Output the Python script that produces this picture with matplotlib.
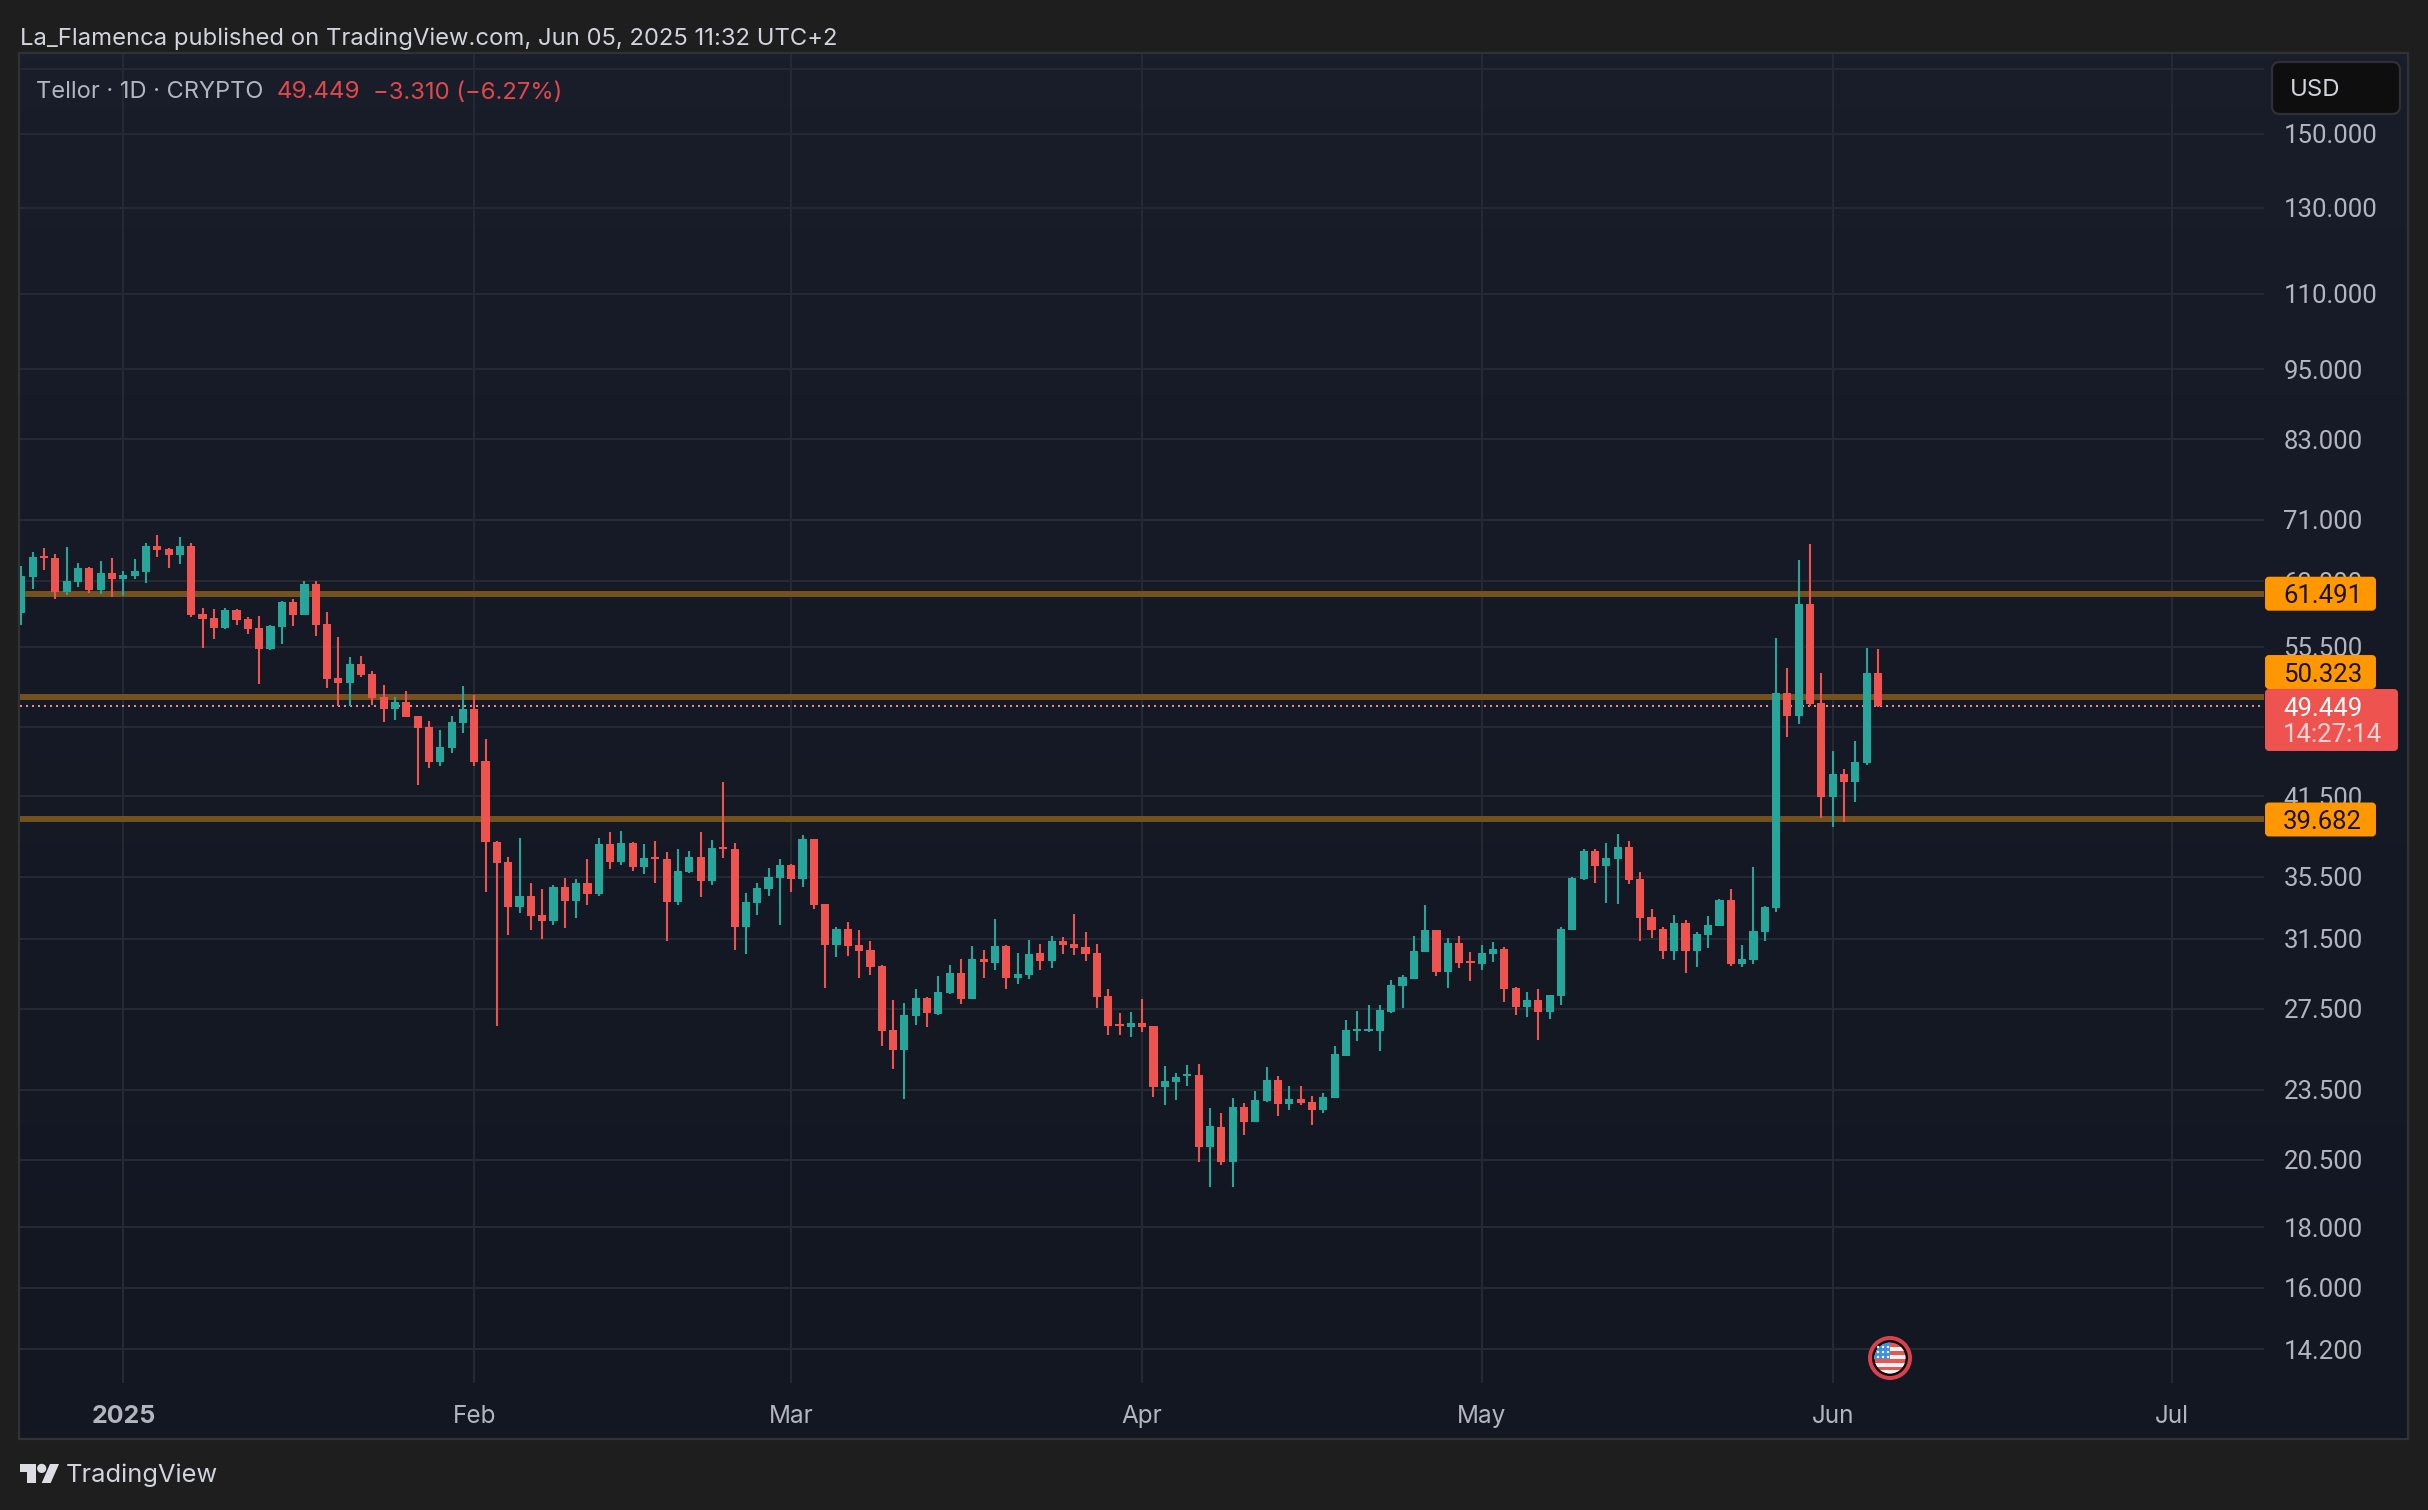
import numpy as np
import pandas as pd
import matplotlib
matplotlib.use("Agg")
import matplotlib.pyplot as plt
import matplotlib.dates as mdates
from matplotlib.patches import Circle, FancyBboxPatch, Polygon, Rectangle

plt.rcParams['font.family'] = ['Inter', 'DejaVu Sans']

# daily candles, first one is cut by the left edge
start_date = "2024-12-23"
opens = [59.21, 63.53, 66.17, 65.91, 61.71, 62.92, 64.64, 61.95, 64.02, 63.29,
         63.61, 64.14, 67.47, 67.03, 66.30, 67.47, 59.13, 58.67, 57.55, 59.55,
         58.56, 57.51, 55.25, 57.66, 60.48, 59.02, 62.67, 57.96, 52.22, 51.71,
         53.66, 52.63, 50.33, 49.18, 49.85, 48.51, 47.49, 44.38, 45.60, 47.86,
         49.18, 44.47, 38.00, 36.56, 33.51, 34.23, 32.99, 32.59, 34.83, 33.90,
         35.10, 34.36, 37.85, 36.56, 37.90, 36.21, 36.89, 36.77, 33.83, 35.86,
         36.92, 35.24, 37.64, 37.49, 32.23, 33.77, 34.69, 35.44, 36.35, 35.37,
         38.23, 33.70, 31.12, 32.11, 31.12, 30.82, 29.88, 26.39, 25.39, 27.12,
         28.08, 27.23, 28.34, 29.48, 28.03, 30.29, 30.05, 31.06, 29.19, 29.37,
         30.64, 30.17, 31.37, 31.18, 31.00, 30.64, 28.19, 26.70, 26.55, 26.76,
         26.60, 23.63, 23.86, 24.14, 24.19, 21.04, 21.87, 20.43, 22.73, 22.08,
         23.00, 23.95, 22.86, 23.09, 22.95, 22.60, 23.13, 25.10, 26.34, 26.32,
         26.34, 27.33, 28.75, 29.14, 30.70, 32.04, 29.54, 31.24, 30.17, 29.99,
         30.58, 30.88, 28.63, 27.60, 27.97, 27.33, 28.19, 32.04, 35.35, 37.36,
         36.27, 36.77, 37.63, 35.37, 32.85, 32.10, 30.76, 32.47, 30.76, 31.73,
         32.29, 33.95, 30.00, 30.23, 31.91, 33.45, 50.72, 48.52, 60.32, 49.76,
         41.46, 43.35, 42.69, 44.26, 52.74]
highs = [64.89, 66.72, 67.16, 66.38, 67.38, 65.23, 64.72, 65.53, 65.91, 64.31,
         65.74, 67.86, 68.91, 67.16, 68.65, 67.86, 59.82, 59.71, 59.78, 59.71,
         58.82, 58.86, 57.85, 60.60, 60.87, 63.04, 63.04, 59.36, 56.55, 54.37,
         54.47, 52.90, 51.51, 50.30, 50.92, 48.51, 48.05, 47.21, 48.51, 51.41,
         50.53, 46.40, 38.03, 36.89, 38.30, 35.10, 34.69, 34.94, 35.44, 35.35,
         36.77, 38.28, 38.73, 38.83, 37.98, 37.85, 38.08, 37.25, 37.49, 37.35,
         38.73, 38.15, 42.69, 37.90, 34.42, 35.10, 36.14, 36.77, 36.42, 38.53,
         38.23, 33.70, 32.23, 32.55, 32.04, 31.36, 29.94, 27.97, 27.79, 28.58,
         28.13, 29.29, 29.93, 30.27, 31.06, 30.82, 32.73, 31.12, 30.62, 31.43,
         31.16, 31.67, 31.61, 33.01, 31.88, 31.16, 28.58, 27.28, 27.33, 28.03,
         26.60, 24.61, 24.28, 24.66, 24.71, 22.69, 22.46, 23.12, 22.90, 23.45,
         24.57, 24.14, 23.68, 23.68, 23.21, 23.36, 25.58, 26.91, 27.38, 27.71,
         27.71, 29.08, 29.37, 31.67, 33.63, 32.04, 31.55, 31.67, 30.70, 31.12,
         31.31, 30.98, 28.69, 28.41, 28.58, 28.24, 32.23, 35.48, 37.46, 37.46,
         37.90, 38.59, 38.05, 35.85, 33.37, 32.22, 32.97, 32.64, 31.91, 32.91,
         34.01, 34.69, 31.12, 36.20, 33.54, 56.44, 53.26, 65.66, 67.73, 52.71,
         45.33, 43.78, 46.21, 55.36, 55.25]
lows = [57.88, 62.11, 64.39, 60.91, 61.35, 62.31, 61.55, 61.47, 61.15, 61.27,
        63.29, 62.83, 66.04, 64.64, 65.14, 58.82, 55.36, 56.33, 57.44, 57.88,
        56.88, 51.61, 55.14, 55.82, 57.73, 59.02, 56.66, 51.22, 49.41, 49.47,
        52.33, 49.56, 47.95, 48.14, 48.42, 42.44, 43.86, 44.03, 45.16, 46.90,
        44.03, 34.49, 26.59, 31.73, 33.12, 32.04, 31.49, 32.36, 32.17, 32.80,
        33.64, 34.18, 36.07, 36.34, 35.88, 35.69, 35.06, 31.36, 33.59, 35.79,
        34.16, 34.97, 36.82, 30.82, 30.59, 32.99, 34.23, 32.36, 34.49, 34.83,
        33.38, 28.63, 30.41, 30.45, 29.19, 29.37, 25.56, 24.46, 23.09, 26.65,
        26.54, 27.17, 28.30, 27.76, 28.03, 29.17, 29.65, 28.58, 28.86, 29.14,
        29.65, 29.76, 30.58, 30.50, 30.17, 27.54, 26.12, 26.12, 26.04, 26.29,
        23.18, 22.82, 23.04, 23.65, 20.43, 19.47, 20.32, 19.47, 21.53, 22.08,
        22.95, 22.34, 22.60, 22.82, 21.95, 22.46, 23.13, 25.06, 25.84, 26.29,
        25.34, 27.28, 27.54, 29.14, 30.70, 29.27, 28.63, 29.76, 29.02, 29.65,
        30.11, 27.87, 27.17, 27.07, 25.89, 26.96, 27.71, 32.00, 35.30, 35.09,
        33.76, 33.69, 35.03, 31.35, 31.53, 30.29, 30.23, 29.46, 29.82, 30.94,
        32.29, 29.88, 29.78, 30.00, 31.35, 33.15, 46.58, 47.77, 49.41, 39.79,
        39.12, 39.48, 41.07, 44.12, 49.35]
closes = [63.65, 66.00, 65.91, 61.71, 63.04, 64.60, 61.91, 63.98, 63.29, 63.78,
          64.27, 67.47, 66.94, 66.30, 67.47, 59.02, 58.56, 57.55, 59.59, 58.45,
          57.44, 55.25, 57.73, 60.48, 59.02, 62.67, 57.88, 52.12, 51.71, 53.66,
          52.53, 50.24, 49.18, 49.85, 48.42, 47.40, 44.38, 45.69, 47.95, 49.18,
          44.38, 37.95, 36.49, 33.51, 34.23, 32.93, 32.61, 34.83, 33.90, 35.10,
          34.36, 37.85, 36.56, 37.90, 36.18, 36.82, 36.77, 33.83, 35.93, 36.92,
          35.24, 37.54, 37.49, 32.23, 33.83, 34.76, 35.51, 36.35, 35.37, 38.23,
          33.64, 31.12, 32.11, 31.06, 30.76, 29.83, 26.34, 25.39, 27.17, 28.08,
          27.28, 28.41, 29.48, 28.01, 30.29, 30.07, 31.06, 29.19, 29.42, 30.58,
          30.15, 31.37, 31.12, 30.94, 30.58, 28.13, 26.60, 26.60, 26.76, 26.55,
          23.63, 23.90, 24.09, 24.23, 21.04, 21.91, 20.43, 22.73, 22.08, 23.04,
          23.95, 22.86, 23.09, 22.91, 22.60, 23.18, 25.19, 26.39, 26.44, 26.42,
          27.44, 28.80, 29.25, 30.76, 32.04, 29.54, 31.24, 30.05, 30.05, 30.64,
          30.88, 28.58, 27.60, 27.97, 27.33, 28.24, 32.10, 35.44, 37.36, 36.27,
          36.84, 37.63, 35.30, 32.79, 32.04, 30.76, 32.47, 30.76, 31.79, 32.35,
          33.95, 30.00, 30.29, 31.97, 33.50, 50.72, 48.52, 60.32, 49.60, 41.46,
          43.35, 42.69, 44.37, 52.74, 49.449]

price_ticks = [170, 150, 130, 110, 95, 83, 71, 63, 55.5, 47.5, 41.5, 35.5, 31.5, 27.5, 23.5, 20.5, 18, 16, 14.2]
price_labels = ["", "150.000", "130.000", "110.000", "95.000", "83.000", "71.000", "63.000", "55.500", "",
                "41.500", "35.500", "31.500", "27.500", "23.500", "20.500", "18.000", "16.000", "14.200"]
month_ticks = ["2025-01-01", "2025-02-01", "2025-03-01", "2025-04-01", "2025-05-01", "2025-06-01", "2025-07-01"]
month_labels = ["2025", "Feb", "Mar", "Apr", "May", "Jun", "Jul"]
levels = [61.491, 50.323, 39.682]
last_price = 49.449

W, H = 2428, 1510
UP = "#26a69a"
DOWN = "#ef5350"
GRID = "#262a35"
AXIS_TEXT = "#b2b5be"
ORANGE = "#ff9800"
NUM_FONT = ['Roboto', 'DejaVu Sans']
NUM_SIZE = 18.5

fig = plt.figure(figsize=(W / 100, H / 100), dpi=100, facecolor="#1e1e1e")


def box(x0, y0, x1, y1):
    return [x0 / W, 1 - y1 / H, (x1 - x0) / W, (y1 - y0) / H]


def px_axes(zorder):
    a = fig.add_axes([0, 0, 1, 1], zorder=zorder)
    a.set_xlim(0, W)
    a.set_ylim(H, 0)
    a.axis("off")
    a.patch.set_alpha(0)
    return a


# pane background, slightly lighter at the top
back = px_axes(0)
top_col = np.array(matplotlib.colors.to_rgb("#1a1e2b"))
bot_col = np.array(matplotlib.colors.to_rgb("#131722"))
ramp = np.linspace(0, 1, 256)[:, None, None] ** 0.6
back.imshow(top_col + (bot_col - top_col) * ramp, extent=[20, 2407, 1438, 54], aspect="auto", zorder=1)
back.set_xlim(0, W)
back.set_ylim(H, 0)
back.add_patch(Rectangle((19, 53), 2389, 1386, fill=False, ec="#303236", lw=1.6, zorder=2))

# chart
ax = fig.add_axes(box(20, 54, 2264, 1383), zorder=1)
ax.patch.set_alpha(0)
ax.set_yscale("log")
ax.set_ylim(13.30, 175.18)

dates = pd.date_range(start_date, periods=len(opens))
x = mdates.date2num(dates)
o = np.array(opens)
h = np.array(highs)
l = np.array(lows)
c = np.array(closes)
cols = [UP if a >= b else DOWN for a, b in zip(c, o)]
body_low = np.minimum(o, c)
body_high = np.maximum(o, c)

jan1 = mdates.date2num(pd.Timestamp("2025-01-01"))
ax.set_xlim(jan1 - 9.125, jan1 + 189.1)

for lev in levels:
    ax.axhline(lev, color="#74521f", lw=4.3, zorder=2)
ax.axhline(last_price, color="#f08a8a", lw=1.44, ls=(0, (1, 2)), zorder=2.5)
ax.vlines(x, l, h, colors=cols, lw=1.5, zorder=3)
ax.bar(x, body_high - body_low, bottom=body_low, width=0.72, color=cols, linewidth=0, zorder=4)

ax.set_xticks(mdates.date2num(pd.to_datetime(month_ticks)))
ax.set_xticklabels(month_labels, fontsize=17.5)
ax.set_yticks(price_ticks)
ax.set_yticklabels(price_labels, fontsize=NUM_SIZE, family=NUM_FONT)
ax.minorticks_off()
ax.yaxis.tick_right()
ax.tick_params(axis="both", length=0, labelcolor=AXIS_TEXT)
ax.tick_params(axis="y", pad=14)
ax.tick_params(axis="x", pad=15.5)
ax.get_xticklabels()[0].set_fontweight("bold")
ax.get_xticklabels()[0].set_fontsize(18)
ax.grid(True, color=GRID, lw=1.4)
ax.set_axisbelow(True)
for s in ax.spines.values():
    s.set_visible(False)

# labels over the price scale
top = px_axes(3)


def price_y(p):
    return H - ax.transData.transform((jan1, p))[1]


def tag(y, x1, height, col, text, text_col):
    top.add_patch(FancyBboxPatch((2266, y - height / 2 + 1), x1 - 2266, height - 2,
                                 boxstyle="round,pad=0,rounding_size=3", fc=col, ec=col, lw=1.4, zorder=5))
    top.text(2283, y, text, color=text_col, fontsize=NUM_SIZE, family=NUM_FONT, va="center_baseline", ha="left", zorder=6)


tag(price_y(levels[0]), 2375, 34, ORANGE, "61.491", "#1a1206")
tag(price_y(levels[2]), 2375, 34, ORANGE, "39.682", "#1a1206")
tag(price_y(levels[1]) - 25, 2375, 34, ORANGE, "50.323", "#1a1206")
top.add_patch(FancyBboxPatch((2266, 690), 131, 60, boxstyle="round,pad=0,rounding_size=3", fc=DOWN, ec=DOWN, lw=1.4, zorder=7))
top.text(2283, price_y(last_price), "49.449", color="#ffffff", fontsize=NUM_SIZE, family=NUM_FONT, va="center_baseline", zorder=8)
top.text(2283, 733, "14:27:14", color="#fbd5d4", fontsize=NUM_SIZE, family=NUM_FONT, va="center_baseline", zorder=8)

# header and legend
top.text(20, 36, "La_Flamenca published on TradingView.com, Jun 05, 2025 11:32 UTC+2",
         color="#d1d4dc", fontsize=17.15, va="center_baseline")
top.text(36, 90, "Tellor · 1D · CRYPTO", color=AXIS_TEXT, fontsize=17, va="center_baseline")
top.text(277, 90, "49.449", color="#e0484c", fontsize=17.4, va="center_baseline")
top.text(373, 90, "−3.310 (−6.27%)", color="#e0484c", fontsize=17.2, va="center_baseline")

top.add_patch(FancyBboxPatch((2272, 62), 128, 52, boxstyle="round,pad=0,rounding_size=8",
                             fc="#0e0e0f", ec="#2e3036", lw=1.6, zorder=5))
top.text(2290, 87, "USD", color="#d1d4dc", fontsize=17.2, va="center_baseline", zorder=6)

# TradingView logo and name
logo = "#dcdee4"
top.add_patch(Polygon([(20, 1464), (36, 1464), (36, 1483), (27, 1483), (27, 1472), (20, 1472)], fc=logo, ec="none"))
top.add_patch(Circle((41.7, 1468.4), 4.6, fc=logo, ec="none"))
top.add_patch(Polygon([(50, 1464), (59, 1464), (50.7, 1483), (41.7, 1483)], fc=logo, ec="none"))
top.text(66, 1473, "TradingView", color="#d1d4dc", fontsize=18.3, va="center_baseline")

# event marker, US flag
fx, fy = 1890, 1358
top.add_patch(Circle((fx, fy), 22, fc="#d9414e", ec="none", zorder=5))
top.add_patch(Circle((fx, fy), 18, fc="#0a0a0a", ec="none", zorder=6))
flag = Circle((fx, fy), 15.5, fc="#ef5350", ec="none", zorder=7)
top.add_patch(flag)
for sy in [-11, -3, 5, 12]:
    st = Rectangle((fx - 16, fy + sy), 32, 4, fc="#f4f4f4", ec="none", zorder=8)
    top.add_patch(st)
    st.set_clip_path(flag)
canton = Rectangle((fx - 16, fy - 16), 16, 17, fc="#3d8fe0", ec="none", zorder=9)
top.add_patch(canton)
canton.set_clip_path(flag)
for dx in [-12, -7, -2]:
    for dy in [-11, -6, -1]:
        top.add_patch(Circle((fx + dx, fy + dy), 1.2, fc="#ffffff", ec="none", zorder=10))

fig.savefig("out.png", dpi=100, facecolor=fig.get_facecolor())
